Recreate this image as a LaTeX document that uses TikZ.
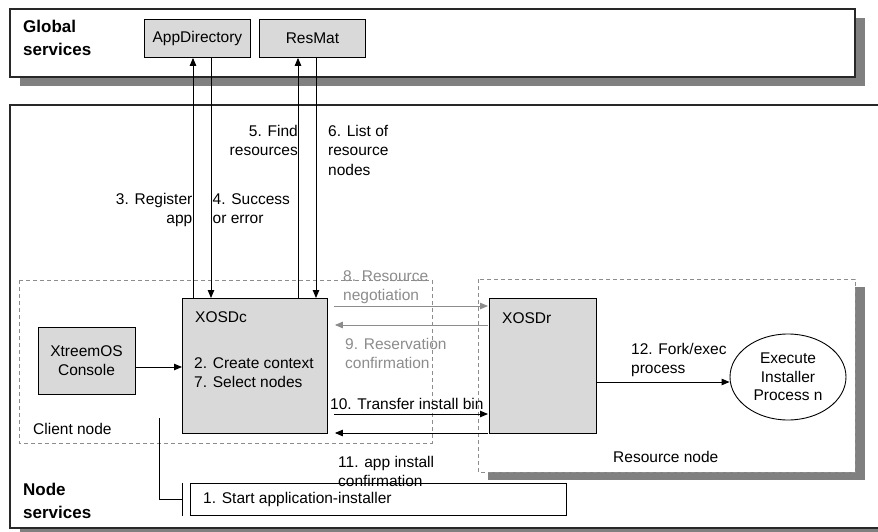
\documentclass[tikz,border=0pt]{standalone}
\usepackage{fontspec}
\setmainfont{Liberation Sans}
\usetikzlibrary{arrows.meta,shapes.geometric,calc}
\definecolor{boxfill}{RGB}{217,217,217}
\definecolor{shadowgray}{RGB}{128,128,128}
\definecolor{dashgray}{RGB}{140,140,140}
\definecolor{softgray}{RGB}{140,140,140}
\definecolor{framegray}{RGB}{40,40,40}
\begin{document}
\begin{tikzpicture}[x=1pt,y=-1pt,
  lbl/.style={font=\fontsize{15.5}{19.5}\selectfont, inner sep=0pt},
  title/.style={font=\fontsize{17}{22.5}\selectfont\bfseries, inner sep=0pt, align=left, anchor=north west},
  frame/.style={draw=framegray, line width=1.2pt, fill=white},
  shadow/.style={fill=shadowgray, draw=none},
  area/.style={draw=dashgray, dash pattern=on 4pt off 3pt, line width=0.8pt},
  graybox/.style={draw=black, line width=0.9pt, fill=boxfill, inner sep=0pt},
  whitebox/.style={draw=black, line width=0.9pt, fill=white, inner sep=0pt},
  arr/.style={draw=black, line width=0.9pt, -{Triangle[length=8pt,width=6.5pt]}},
  softarr/.style={draw=softgray, line width=0.9pt, -{Triangle[length=8pt,width=6.5pt]}},
  ]
\useasboundingbox (0,0) rectangle (878,532);

% Global services layer
\fill[shadow] (20,18) rectangle (865,86);
\draw[frame] (10,9) rectangle (855,77);
\node[title] at (23,20) {Global\\services};
\node[graybox, minimum width=106, minimum height=38, anchor=north west, font=\fontsize{15.5}{19.5}\selectfont] (app) at (144,19) {AppDirectory};
\node[graybox, minimum width=106, minimum height=38, anchor=north west, font=\fontsize{15.5}{19.5}\selectfont] (resmat) at (259,19) {ResMat};

% Node services layer
\fill[shadow] (20,113) rectangle (910,536);
\draw[frame] (10,105) rectangle (900,528);
\node[title] at (23,483) {Node\\services};

% Client node area
\draw[area] (19,280) rectangle (432,443);
\node[lbl, anchor=north west] at (33,423) {Client node};

% Resource node area
\fill[shadow] (488,287) rectangle (865,480);
\fill[white] (478,279) rectangle (855,472);
\draw[area] (478,279) rectangle (855,472);
\node[lbl, anchor=north west] at (613,451) {Resource node};

% Components
\node[graybox, minimum width=97, minimum height=67, align=center, font=\fontsize{15.5}{19.5}\selectfont] (console) at (86.5,360.5) {XtreemOS\\Console};
\node[graybox, minimum width=145, minimum height=135, anchor=north west] (xosdc) at (182,298) {};
\node[lbl, anchor=north west] at (195,311) {XOSDc};
\node[lbl, anchor=north west, align=left] at (194,357) {2. Create context\\7. Select nodes};
\node[graybox, minimum width=107, minimum height=135, anchor=north west] (xosdr) at (489,298) {};
\node[lbl, anchor=north west] at (502,312) {XOSDr};
\node[ellipse, draw=black, line width=0.9pt, fill=white, minimum width=116, minimum height=86, inner sep=0pt, align=center, font=\fontsize{15.5}{18.5}\selectfont] (proc) at (788,377) {Execute\\Installer\\Process n};
\node[whitebox, minimum width=376, minimum height=32, anchor=north west] (start) at (190,483) {};
\node[lbl, anchor=west] at ($(start.west)+(13,0)$) {1. Start application-installer};

% Callout from the client node to the start step
\coordinate (callout) at (159,418);
\draw[line width=0.9pt] (callout) |- ($(start.west)+(-8,0)$);
\draw[line width=0.9pt] ($(start.north west)+(-8,0)$) -- ($(start.south west)+(-8,0)$);

% Console to XOSDc
\coordinate (h1) at (0,367);
\draw[arr] (console.east |- h1) -- (xosdc.west |- h1);

% Global service calls
\coordinate (v3) at (193,0);
\coordinate (v4) at (211,0);
\coordinate (v5) at (298,0);
\coordinate (v6) at (316,0);
\draw[arr] (xosdc.north -| v3) -- (app.south -| v3);
\draw[arr] (app.south -| v4) -- (xosdc.north -| v4);
\draw[arr] (xosdc.north -| v5) -- (resmat.south -| v5);
\draw[arr] (resmat.south -| v6) -- (xosdc.north -| v6);
\node[lbl, anchor=north east, align=right] at (192.5,193) {3. Register\\app};
\node[lbl, anchor=north west, align=left] at (212.5,193) {4. Success\\or error};
\node[lbl, anchor=north east, align=right] at (298,125) {5. Find\\resources};
\node[lbl, anchor=north west, align=left] at (328,125) {6. List of\\resource\\nodes};

% Client / resource node exchange
\coordinate (h8) at (0,306);
\coordinate (h9) at (0,325);
\coordinate (h10) at (0,414);
\coordinate (h11) at (0,433);
\draw[softarr, shorten <=6pt, shorten >=1pt] (xosdc.east |- h8) -- (xosdr.west |- h8);
\draw[softarr, shorten <=1pt, shorten >=7pt] (xosdr.west |- h9) -- (xosdc.east |- h9);
\draw[arr, shorten <=6pt, shorten >=1pt] (xosdc.east |- h10) -- (xosdr.west |- h10);
\draw[arr, shorten <=1pt, shorten >=7pt] (xosdr.west |- h11) -- (xosdc.east |- h11);
\node[lbl, text=softgray, anchor=north west, align=left] at (343,270) {8. Resource\\negotiation};
\node[lbl, text=softgray, anchor=north west, align=left] at (345,338) {9. Reservation\\confirmation};
\node[lbl, anchor=north west] at (330,398) {10. Transfer install bin};
\node[lbl, anchor=north west, align=left] at (338,456) {11. app install\\confirmation};

% Process start on the resource node
\coordinate (h12) at (0,382);
\draw[arr] (xosdr.east |- h12) -- (proc.west |- h12);
\node[lbl, anchor=north west, align=left] at (631,343) {12. Fork/exec\\process};
\end{tikzpicture}
\end{document}
